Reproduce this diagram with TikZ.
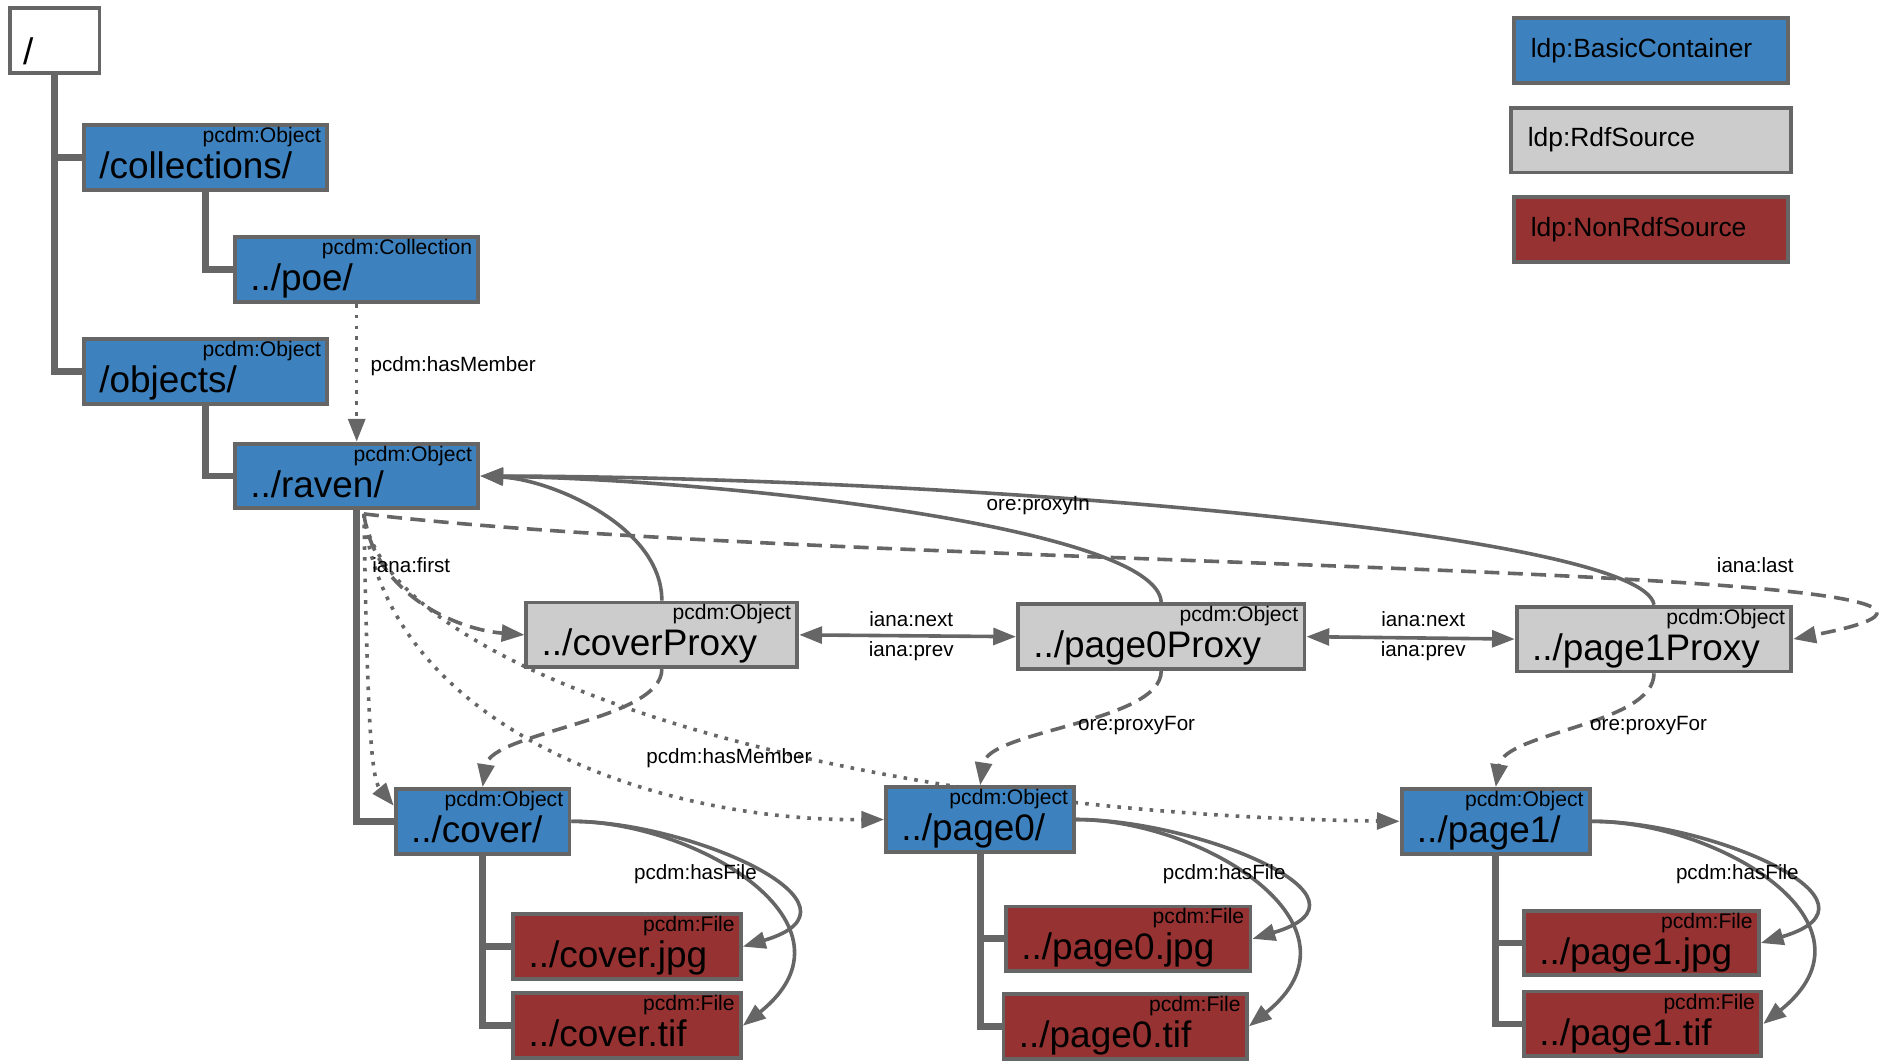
\documentclass[tikz,border=0pt]{standalone}
\usepackage{fontspec}
\setmainfont{Liberation Sans}
\usetikzlibrary{positioning}
\usetikzlibrary{arrows.meta}
\usetikzlibrary{backgrounds}

\definecolor{ldpblue}{RGB}{61,130,190}
\definecolor{ldpgray}{RGB}{204,204,204}
\definecolor{ldpred}{RGB}{150,50,50}
\definecolor{linegray}{RGB}{102,102,102}

\tikzset{
    res/.style={draw=linegray, line width=1.6pt, inner sep=0pt, minimum height=27pt},
    container/.style={res, fill=ldpblue},
    rdfsource/.style={res, fill=ldpgray},
    nonrdf/.style={res, fill=ldpred},
    typetag/.style={anchor=north east, inner sep=0pt, xshift=-3.25pt, yshift=-1.5pt, font=\fontsize{8.8pt}{10pt}\selectfont},
    resname/.style={anchor=base west, inner sep=0pt, xshift=7pt, yshift=5.5pt, font=\fontsize{15.4pt}{18pt}\selectfont},
    legendname/.style={anchor=west, inner sep=0pt, xshift=7.5pt, font=\fontsize{11pt}{13pt}\selectfont},
    contains/.style={draw=linegray, line width=2.8pt},
    rel/.style={draw=linegray, line width=1.5pt, >={Triangle[length=9.5pt, width=7pt]}, ->},
    bothrel/.style={rel, <->},
    dashrel/.style={rel, dash pattern=on 6.25pt off 3.5pt},
    dotrel/.style={rel, dash pattern=on 1.5pt off 3pt},
    relname/.style={inner sep=0pt, font=\fontsize{8.6pt}{10pt}\selectfont},
}

\begin{document}
\begin{tikzpicture}[x=0.5pt, y=0.5pt]
    \useasboundingbox (0,0) rectangle (1568,-885);

    \node[res, fill=white, minimum width=37.5pt, label={[resname, xshift=-0.75pt, yshift=-1pt]south west:{/}}] (root) at (45.5,-34) {};
    \node[container, minimum width=101.5pt, label={[typetag]north east:{pcdm:Object}}, label={[resname]south west:{/collections/}}] (collections) at (171.5,-131.5) {};
    \node[container, minimum width=101.5pt, label={[typetag]north east:{pcdm:Collection}}, label={[resname]south west:{../poe/}}] (poe) at (297.5,-225) {};
    \node[container, minimum width=101.5pt, label={[typetag]north east:{pcdm:Object}}, label={[resname]south west:{/objects/}}] (objects) at (171.5,-310) {};
    \node[container, minimum width=101.5pt, label={[typetag]north east:{pcdm:Object}}, label={[resname]south west:{../raven/}}] (raven) at (297.5,-397) {};

    \node[rdfsource, minimum width=113pt, label={[typetag]north east:{pcdm:Object}}, label={[resname]south west:{../coverProxy}}] (coverproxy) at (552,-529.5) {};
    \node[rdfsource, minimum width=119.5pt, label={[typetag]north east:{pcdm:Object}}, label={[resname]south west:{../page0Proxy}}] (page0proxy) at (968.5,-531) {};
    \node[rdfsource, minimum width=114.5pt, label={[typetag]north east:{pcdm:Object}}, label={[resname]south west:{../page1Proxy}}] (page1proxy) at (1379.5,-533) {};

    \node[container, minimum width=72.5pt, label={[typetag]north east:{pcdm:Object}}, label={[resname]south west:{../cover/}}] (cover) at (402.5,-685) {};
    \node[container, minimum width=78.5pt, label={[typetag]north east:{pcdm:Object}}, label={[resname]south west:{../page0/}}] (page0) at (817.5,-683.5) {};
    \node[container, minimum width=78.5pt, label={[typetag]north east:{pcdm:Object}}, label={[resname]south west:{../page1/}}] (page1) at (1247.5,-685) {};

    \node[nonrdf, minimum width=95pt, label={[typetag]north east:{pcdm:File}}, label={[resname]south west:{../cover.jpg}}] (coverjpg) at (523,-789.5) {};
    \node[nonrdf, minimum width=95pt, label={[typetag]north east:{pcdm:File}}, label={[resname]south west:{../cover.tif}}] (covertif) at (523,-855.5) {};
    \node[nonrdf, minimum width=102pt, label={[typetag]north east:{pcdm:File}}, label={[resname]south west:{../page0.jpg}}] (page0jpg) at (941,-783) {};
    \node[nonrdf, minimum width=101.5pt, label={[typetag]north east:{pcdm:File}}, label={[resname]south west:{../page0.tif}}] (page0tif) at (938.5,-856) {};
    \node[nonrdf, minimum width=98pt, label={[typetag]north east:{pcdm:File}}, label={[resname]south west:{../page1.jpg}}] (page1jpg) at (1369,-786.5) {};
    \node[nonrdf, minimum width=99pt, label={[typetag]north east:{pcdm:File}}, label={[resname]south west:{../page1.tif}}] (page1tif) at (1370,-854) {};

    \node[container, minimum width=114pt, label={[legendname]west:{ldp:BasicContainer}}] (basic) at (1377,-42) {};
    \node[rdfsource, minimum width=116.5pt, below=8.8pt of basic, label={[legendname]west:{ldp:RdfSource}}] (rdf) {};
    \node[nonrdf, minimum width=114pt, below=8.8pt of rdf, label={[legendname]west:{ldp:NonRdfSource}}] (nonrdfkey) {};

    \coordinate (ravenout) at ([xshift=3pt, yshift=-1.5pt]raven.south);

    \begin{scope}[on background layer]
        \draw[contains] (root.south) |- (collections.west);
        \draw[contains] (root.south) |- (objects.west);
        \draw[contains] (collections.south) |- (poe.west);
        \draw[contains] (objects.south) |- (raven.west);
        \draw[contains] (raven.south) |- (cover.west);
        \draw[contains] (cover.south) |- (coverjpg.west);
        \draw[contains] (cover.south) |- (covertif.west);
        \draw[contains] (page0.south) |- (page0jpg.west);
        \draw[contains] (page0.south) |- (page0tif.west);
        \draw[contains] (page1.south) |- (page1jpg.west);
        \draw[contains] (page1.south) |- (page1tif.west);

        \draw[dotrel] (poe.south) -- (raven.north);
        \draw[dotrel] (ravenout) .. controls +(3,-170) and +(-19,23) .. ([yshift=6.5pt]cover.west);
        \draw[dotrel] (ravenout) .. controls +(17,-174) and +(-198,-1.5) .. (page0.west);
        \draw[dotrel] (ravenout) .. controls +(17,-132) and +(-467,6) .. (page1.west);

        \draw[rel] (coverproxy.north) .. controls +(0,62) and +(59,-3) .. (raven.east);
        \draw[rel] (page0proxy.north) .. controls +(-3,63) and +(199,-3) .. (raven.east);
        \draw[rel] (page1proxy.north) .. controls +(-9,60) and +(399,-1) .. (raven.east);

        \draw[dashrel] (ravenout) .. controls +(9,-67) and +(-57,4.5) .. (coverproxy.west);
        \draw[dashrel] (ravenout) .. controls +(397,-47) and +(323,63) .. (page1proxy.east);

        \draw[bothrel] (coverproxy.east) -- (page0proxy.west);
        \draw[bothrel] (page0proxy.east) -- (page1proxy.west);

        \draw[dashrel] (coverproxy.south) .. controls +(0,-43) and +(7,46) .. (cover.north);
        \draw[dashrel] (page0proxy.south) .. controls +(0,-43) and +(7,46) .. (page0.north);
        \draw[dashrel] (page1proxy.south) .. controls +(0,-43) and +(7,46) .. (page1.north);

        \draw[rel] (cover.east) .. controls +(100,0) and +(115,34) .. (coverjpg.east);
        \draw[rel] (cover.east) .. controls +(105,0) and +(105,84) .. (covertif.east);
        \draw[rel] (page0.east) .. controls +(100,0) and +(115,34) .. (page0jpg.east);
        \draw[rel] (page0.east) .. controls +(105,0) and +(105,84) .. (page0tif.east);
        \draw[rel] (page1.east) .. controls +(100,0) and +(115,34) .. (page1jpg.east);
        \draw[rel] (page1.east) .. controls +(105,0) and +(105,84) .. (page1tif.east);
    \end{scope}

    \node[relname] (poemember) at (378,-305) {pcdm:hasMember};
    \node[relname] (proxyin) at (866,-422) {ore:proxyIn};
    \node[relname] (first) at (343,-471) {iana:first};
    \node[relname] (last) at (1464,-471) {iana:last};
    \node[relname] (next0) at (760,-516) {iana:next};
    \node[relname] (prev0) at (760,-543) {iana:prev};
    \node[relname] (next1) at (1187,-516) {iana:next};
    \node[relname] (prev1) at (1187,-543) {iana:prev};
    \node[relname] (proxyfor0) at (948,-605) {ore:proxyFor};
    \node[relname] (proxyfor1) at (1375,-605) {ore:proxyFor};
    \node[relname] (ravenmember) at (608,-632) {pcdm:hasMember};
    \node[relname] (coverfile) at (580,-729) {pcdm:hasFile};
    \node[relname] (page0file) at (1021,-729) {pcdm:hasFile};
    \node[relname] (page1file) at (1449,-729) {pcdm:hasFile};
\end{tikzpicture}
\end{document}
